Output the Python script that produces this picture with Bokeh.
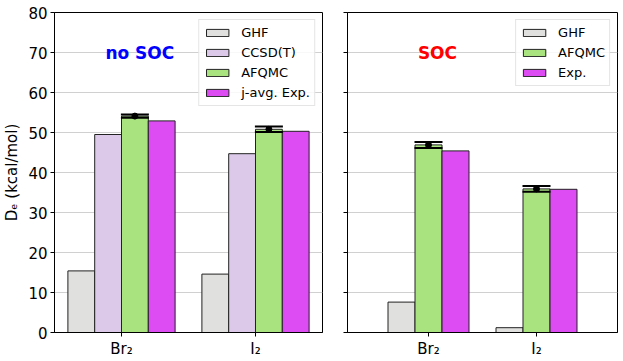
from bokeh.plotting import figure
from bokeh.models import (ColumnDataSource, FactorRange, Range1d, Whisker, TeeHead,
                          Legend, LegendItem, Label, FixedTicker)
from bokeh.transform import dodge
from bokeh.layouts import row
from bokeh.embed import file_html
from bokeh.resources import INLINE

# ---------------- data ----------------
molecules = ["Br₂", "I₂"]

nosoc_ghf = [15.4, 14.6]
nosoc_ccsdt = [49.5, 44.7]
nosoc_afqmc = [54.1, 50.8]
nosoc_afqmc_err = [0.4, 0.7]
nosoc_exp = [52.9, 50.3]

soc_ghf = [7.6, 1.2]
soc_afqmc = [46.9, 35.9]
soc_afqmc_err = [0.75, 0.7]
soc_exp = [45.4, 35.8]

y_ticks = [0, 10, 20, 30, 40, 50, 60, 70, 80]

# ---------------- style ----------------
FONT = "DejaVu Sans"
C_GHF = "#e0e0de"
C_CCSD = "#dcc9ea"
C_AFQMC = "#a8e380"
C_EXP = "#dc4cf2"
EDGE = "#222222"


def make_fig(width, x_range, min_left, min_right, show_ylabels):
    p = figure(width=width, height=360, x_range=x_range, y_range=Range1d(0, 80),
               output_backend="svg", toolbar_location=None,
               min_border_left=min_left, min_border_right=min_right,
               min_border_top=12, min_border_bottom=27)
    p.outline_line_color = "black"
    p.outline_line_width = 1
    p.background_fill_color = "white"
    p.border_fill_color = "white"
    p.xgrid.grid_line_color = None
    p.ygrid.grid_line_color = "#d0d0d0"
    p.ygrid.grid_line_width = 1
    p.yaxis.ticker = FixedTicker(ticks=y_ticks)
    for ax in (p.xaxis, p.yaxis):
        ax.axis_line_color = "black"
        ax.major_tick_line_color = "black"
        ax.major_tick_in = 0
        ax.major_tick_out = 4
        ax.minor_tick_line_color = None
        ax.major_label_text_font = FONT
        ax.major_label_text_font_size = "15px"
        ax.major_label_text_color = "black"
        ax.major_label_standoff = 3
    if show_ylabels:
        p.yaxis.axis_label = "Dₑ (kcal/mol)"
        p.yaxis.axis_label_text_font = FONT
        p.yaxis.axis_label_text_font_size = "15px"
        p.yaxis.axis_label_text_font_style = "normal"
        p.yaxis.axis_label_text_color = "black"
        p.yaxis.axis_label_standoff = 4
    else:
        p.yaxis.major_label_overrides = {t: "" for t in y_ticks}
        p.yaxis.major_label_standoff = 0
    return p


def style_legend(leg):
    leg.location = "top_right"
    leg.margin = 7
    leg.padding = 4
    leg.spacing = 3
    leg.label_height = 17
    leg.glyph_width = 28
    leg.glyph_height = 9
    leg.label_standoff = 10
    leg.label_text_font = FONT
    leg.label_text_font_size = "13px"
    leg.label_text_color = "black"
    leg.border_line_color = "#cccccc"
    leg.border_line_width = 1
    leg.background_fill_alpha = 0.85


# ---------------- left: no SOC ----------------
src1 = ColumnDataSource(dict(
    mol=molecules, ghf=nosoc_ghf, ccsdt=nosoc_ccsdt, afqmc=nosoc_afqmc, exp=nosoc_exp,
    upper=[v + e for v, e in zip(nosoc_afqmc, nosoc_afqmc_err)],
    lower=[v - e for v, e in zip(nosoc_afqmc, nosoc_afqmc_err)],
))
xr1 = FactorRange(*molecules, range_padding=0.0)
p1 = make_fig(327, xr1, 52, 5, True)
w1 = 0.2
r_ghf = p1.vbar(x=dodge("mol", -0.3, range=xr1), top="ghf", width=w1, source=src1,
                fill_color=C_GHF, line_color=EDGE, line_width=1)
r_cc = p1.vbar(x=dodge("mol", -0.1, range=xr1), top="ccsdt", width=w1, source=src1,
               fill_color=C_CCSD, line_color=EDGE, line_width=1)
r_af = p1.vbar(x=dodge("mol", 0.1, range=xr1), top="afqmc", width=w1, source=src1,
               fill_color=C_AFQMC, line_color=EDGE, line_width=1)
r_ex = p1.vbar(x=dodge("mol", 0.3, range=xr1), top="exp", width=w1, source=src1,
               fill_color=C_EXP, line_color=EDGE, line_width=1)
wh1 = Whisker(base=dodge("mol", 0.1, range=xr1), upper="upper", lower="lower", source=src1,
              line_color="black", line_width=2, level="annotation",
              upper_head=TeeHead(size=28, line_width=2, line_color="black"),
              lower_head=TeeHead(size=28, line_width=2, line_color="black"))
p1.add_layout(wh1)
p1.scatter(x=dodge("mol", 0.1, range=xr1), y="afqmc", source=src1, size=6,
           fill_color="black", line_color="black", level="annotation")
leg1 = Legend(items=[LegendItem(label="GHF", renderers=[r_ghf]),
                     LegendItem(label="CCSD(T)", renderers=[r_cc]),
                     LegendItem(label="AFQMC", renderers=[r_af]),
                     LegendItem(label="j-avg. Exp.", renderers=[r_ex])])
style_legend(leg1)
p1.add_layout(leg1)
p1.add_layout(Label(x=0.637, y=70, text="no SOC", text_align="center", text_baseline="middle",
                    text_font=FONT, text_font_size="17px", text_font_style="bold",
                    text_color="#0000ff"))

# ---------------- right: SOC ----------------
src2 = ColumnDataSource(dict(
    mol=molecules, ghf=soc_ghf, afqmc=soc_afqmc, exp=soc_exp,
    upper=[v + e for v, e in zip(soc_afqmc, soc_afqmc_err)],
    lower=[v - e for v, e in zip(soc_afqmc, soc_afqmc_err)],
))
xr2 = FactorRange(*molecules, range_padding=0.25, range_padding_units="absolute")
p2 = make_fig(294, xr2, 20, 4, False)
w2 = 0.25
s_ghf = p2.vbar(x=dodge("mol", -0.25, range=xr2), top="ghf", width=w2, source=src2,
                fill_color=C_GHF, line_color=EDGE, line_width=1)
s_af = p2.vbar(x=dodge("mol", 0.0, range=xr2), top="afqmc", width=w2, source=src2,
               fill_color=C_AFQMC, line_color=EDGE, line_width=1)
s_ex = p2.vbar(x=dodge("mol", 0.25, range=xr2), top="exp", width=w2, source=src2,
               fill_color=C_EXP, line_color=EDGE, line_width=1)
wh2 = Whisker(base=dodge("mol", 0.0, range=xr2), upper="upper", lower="lower", source=src2,
              line_color="black", line_width=2, level="annotation",
              upper_head=TeeHead(size=28, line_width=2, line_color="black"),
              lower_head=TeeHead(size=28, line_width=2, line_color="black"))
p2.add_layout(wh2)
p2.scatter(x=dodge("mol", 0.0, range=xr2), y="afqmc", source=src2, size=6,
           fill_color="black", line_color="black", level="annotation")
leg2 = Legend(items=[LegendItem(label="GHF", renderers=[s_ghf]),
                     LegendItem(label="AFQMC", renderers=[s_af]),
                     LegendItem(label="Exp.", renderers=[s_ex])])
style_legend(leg2)
p2.add_layout(leg2)
p2.add_layout(Label(x=0.583, y=70, text="SOC", text_align="center", text_baseline="middle",
                    text_font=FONT, text_font_size="17px", text_font_style="bold",
                    text_color="#ff0000"))

layout = row(p1, p2)
open("out.html", "w").write(file_html(layout, INLINE))
